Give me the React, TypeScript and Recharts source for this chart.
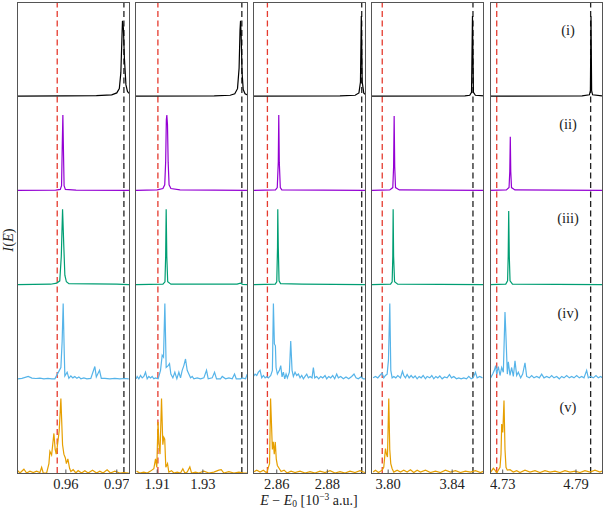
import React from 'react';
import { LineChart, Line, XAxis, YAxis, ReferenceLine } from 'recharts';

// x ranges, ticks and the two marker energies for each column
const colDomains = [
  [0.9504, 0.9724],
  [1.9007, 1.9498],
  [2.8506, 2.8949],
  [3.7899, 3.8599],
  [4.7196, 4.8113],
];
const colTicks = [
  [0.96, 0.97],
  [1.91, 1.93],
  [2.86, 2.88],
  [3.8, 3.84],
  [4.73, 4.79],
];
const redMarks = [0.9583, 1.9103, 2.8563, 3.7963, 4.7251];
const blackMarks = [0.9714, 1.9471, 2.8936, 3.853, 4.802];

const rowLabels = ['(i)', '(ii)', '(iii)', '(iv)', '(v)'];
const rowColors = ['#000000', '#9400d3', '#009e73', '#56b4e9', '#e69f00'];

// row (i)
const c1r1 = [[0.9504,0],[0.96,0.003],[0.966,0.006],[0.969,0.015],[0.97,0.035],[0.9705,0.08],[0.9708,0.25],[0.971,0.6],[0.97112,0.8],[0.9713,0.72],[0.9715,0.4],[0.9718,0.12],[0.9721,0.05],[0.9724,0.03]];
const c2r1 = [[1.9007,0],[1.935,0.003],[1.942,0.01],[1.944,0.025],[1.9452,0.08],[1.9459,0.3],[1.9463,0.7],[1.94653,0.8],[1.9468,0.65],[1.9472,0.25],[1.9477,0.07],[1.9485,0.025],[1.9498,0.01]];
const c3r1 = [[2.8506,0],[2.885,0.003],[2.891,0.01],[2.8925,0.035],[2.8931,0.15],[2.89344,0.85],[2.8938,0.15],[2.8944,0.035],[2.8949,0.02]];
const c4r1 = [[3.7899,0],[3.848,0.003],[3.851,0.01],[3.8521,0.04],[3.8527,0.85],[3.8533,0.04],[3.8545,0.01],[3.8599,0.003]];
const c5r1 = [[4.7196,0],[4.795,0.003],[4.801,0.015],[4.8018,0.06],[4.8023,0.85],[4.8028,0.06],[4.8036,0.015],[4.8113,0.004]];

// row (ii)
const c1r2 = [[0.9504,0],[0.958,0.003],[0.9589,0.01],[0.95915,0.05],[0.9593,0.5],[0.95941,0.8],[0.9595,0.5],[0.95965,0.05],[0.9599,0.01],[0.962,0.003],[0.9724,0]];
const c2r2 = [[1.9007,0],[1.91,0.005],[1.9125,0.02],[1.9133,0.06],[1.9137,0.3],[1.914,0.75],[1.91421,0.8],[1.9145,0.7],[1.9148,0.3],[1.9152,0.06],[1.916,0.02],[1.92,0.005],[1.9498,0]];
const c3r2 = [[2.8506,0],[2.8595,0.005],[2.8602,0.03],[2.8606,0.3],[2.86079,0.8],[2.861,0.3],[2.8614,0.03],[2.862,0.005],[2.8949,0]];
const c4r2 = [[3.7899,0],[3.801,0.005],[3.8029,0.03],[3.8034,0.25],[3.80375,0.79],[3.8041,0.25],[3.8046,0.03],[3.807,0.005],[3.8599,0]];
const c5r2 = [[4.7196,0],[4.733,0.005],[4.7352,0.03],[4.7358,0.2],[4.73622,0.57],[4.7366,0.2],[4.7372,0.03],[4.74,0.005],[4.8113,0]];

// row (iii)
const c1r3 = [[0.9504,0],[0.957,0.004],[0.9582,0.015],[0.9588,0.04],[0.9591,0.3],[0.95935,0.8],[0.9596,0.4],[0.9598,0.1],[0.9601,0.03],[0.9606,0.01],[0.97,0.004],[0.9724,0]];
const c2r3 = [[1.9007,0],[1.9125,0.005],[1.9134,0.03],[1.9137,0.3],[1.91393,0.8],[1.9142,0.3],[1.9146,0.03],[1.916,0.005],[1.945,0.005],[1.9465,0.015],[1.9475,0.003],[1.9498,0]];
const c3r3 = [[2.8506,0],[2.8594,0.005],[2.86,0.03],[2.8603,0.4],[2.8604,0.8],[2.8606,0.4],[2.8609,0.04],[2.8615,0.01],[2.87,0.005],[2.8949,0]];
const c4r3 = [[3.7899,0],[3.8015,0.005],[3.8025,0.03],[3.8029,0.3],[3.80312,0.8],[3.8034,0.3],[3.804,0.03],[3.806,0.005],[3.8599,0]];
const c5r3 = [[4.7196,0],[4.7325,0.005],[4.734,0.04],[4.7345,0.3],[4.73491,0.78],[4.7354,0.3],[4.736,0.04],[4.738,0.005],[4.8113,0]];

// row (iv)
const c1r4 = [[0.95053,0],[0.95137,0.005],[0.95261,0.025],[0.95333,0.008],[0.95412,0.003],[0.9549,0.008],[0.95569,0],[0.95647,0.005],[0.95725,0],[0.95784,0],[0.95843,0.06],[0.95902,0.12],[0.95927,0.4],[0.95947,0.8],[0.95967,0.3],[0.9598,0.03],[0.96025,0.07],[0.96059,0.005],[0.96098,0.03],[0.96137,0.01],[0.96176,0.025],[0.96216,0.005],[0.96255,0.02],[0.96294,0],[0.96353,0.01],[0.96412,0],[0.9649,0.005],[0.96569,0.13],[0.96598,0.02],[0.96661,0.09],[0.96696,0.005],[0.96765,0.005],[0.96863,0],[0.96961,0.005],[0.97059,0],[0.97157,0.003],[0.97235,0]];
const c2r4 = [[1.90078,0],[1.90121,0.025],[1.90194,0],[1.90268,0.035],[1.90341,0.01],[1.90414,0.025],[1.90487,0.07],[1.9056,0],[1.90633,0.025],[1.90706,0.01],[1.90779,0.025],[1.90852,0],[1.90925,0.01],[1.91042,0],[1.91145,0.09],[1.91218,0.25],[1.91276,0.23],[1.91335,0.8],[1.91393,0.12],[1.91481,0.14],[1.91539,0.16],[1.91598,0.05],[1.91686,0.01],[1.91773,0.07],[1.91861,0],[1.91949,0.07],[1.92022,0.01],[1.92095,0.09],[1.92168,0.14],[1.92241,0.21],[1.92314,0.09],[1.92387,0.05],[1.92461,0.01],[1.92534,0.025],[1.92607,0],[1.92753,0.01],[1.92899,0],[1.93045,0.01],[1.93162,0.09],[1.93236,0],[1.93411,0.01],[1.93513,0.07],[1.93601,0],[1.93776,0],[1.9385,0.025],[1.93996,0],[1.94142,0.01],[1.94288,0],[1.9439,0.05],[1.94464,0],[1.94654,0],[1.94727,0.01],[1.94873,0],[1.94946,0.05]];
const c3r4 = [[2.85076,0.025],[2.85142,0.05],[2.85208,0.035],[2.85274,0.07],[2.8534,0.09],[2.85406,0.01],[2.85472,0.035],[2.85538,0.01],[2.85604,0.025],[2.85669,0.01],[2.85762,0.035],[2.85827,0.09],[2.85867,0.8],[2.85906,0.37],[2.85946,0.35],[2.85972,0.12],[2.86025,0.05],[2.86104,0.09],[2.86157,0.14],[2.86209,0.02],[2.86262,0.07],[2.86315,0],[2.86368,0.05],[2.8642,0.01],[2.86499,0.07],[2.86552,0.4],[2.86605,0.09],[2.86657,0.025],[2.86723,0.07],[2.86789,0.035],[2.86855,0.05],[2.86921,0.01],[2.86987,0.035],[2.87053,0],[2.87119,0.025],[2.87185,0.05],[2.8725,0.01],[2.87316,0.025],[2.87395,0.01],[2.87448,0.12],[2.87501,0.01],[2.8758,0.025],[2.87659,0],[2.87738,0.025],[2.87817,0.01],[2.87909,0.035],[2.87975,0],[2.88054,0.025],[2.88133,0.01],[2.88212,0.035],[2.88291,0],[2.8837,0.05],[2.88436,0.01],[2.88528,0.025],[2.88634,0],[2.88739,0.02],[2.88845,0],[2.88963,0.025],[2.89055,0.05],[2.89134,0.01],[2.89226,0],[2.89319,0.02],[2.89424,0],[2.89503,0]];
const c4r4 = [[3.79061,0.01],[3.79206,0.025],[3.79352,0.01],[3.79477,0.035],[3.79623,0.06],[3.79727,0.01],[3.79831,0.035],[3.79936,0.05],[3.80019,0.2],[3.80102,0.8],[3.80165,0.09],[3.80248,0.01],[3.80352,0.025],[3.80477,0.01],[3.80602,0.035],[3.80769,0.01],[3.80894,0.08],[3.80977,0.035],[3.81081,0.01],[3.81186,0.045],[3.81311,0.01],[3.81436,0.035],[3.81561,0.01],[3.81686,0.03],[3.81811,0],[3.81936,0.025],[3.82061,0.01],[3.82186,0.035],[3.82331,0],[3.82436,0.025],[3.82602,0.01],[3.82727,0.035],[3.82852,0],[3.82977,0.025],[3.83102,0.01],[3.83227,0.03],[3.83373,0],[3.83519,0.02],[3.83686,0.01],[3.83831,0.045],[3.83956,0.01],[3.84102,0.025],[3.84269,0],[3.84414,0.01],[3.84561,0],[3.84727,0.01],[3.84894,0],[3.85039,0.025],[3.85186,0],[3.85311,0.01],[3.85456,0.07],[3.85561,0.01],[3.85727,0.025],[3.85894,0.01]];
const c5r4 = [[4.72015,0.01],[4.72179,0.05],[4.72315,0.09],[4.72424,0.14],[4.72506,0.05],[4.72642,0.13],[4.72779,0.035],[4.72916,0.12],[4.73052,0.07],[4.73188,0.71],[4.7327,0.44],[4.73379,0.05],[4.73461,0.18],[4.73598,0.035],[4.73734,0.12],[4.7387,0.025],[4.74007,0.19],[4.74143,0.035],[4.74279,0.07],[4.74471,0.01],[4.74635,0.05],[4.74825,0.17],[4.74962,0.025],[4.7518,0.01],[4.75371,0.035],[4.75562,0.01],[4.75781,0.025],[4.75998,0.01],[4.7619,0.05],[4.76381,0.01],[4.76599,0.025],[4.76817,0.01],[4.77008,0.035],[4.77199,0.01],[4.77418,0.025],[4.77635,0],[4.77827,0.025],[4.78018,0.01],[4.78236,0.035],[4.78454,0.01],[4.78645,0.025],[4.78836,0.01],[4.79055,0.035],[4.79272,0.01],[4.79464,0.025],[4.79655,0.01],[4.79873,0.09],[4.80009,0.01],[4.802,0.025],[4.80418,0.01],[4.80637,0.035],[4.80828,0.01],[4.81019,0.025],[4.81183,0.01]];

// row (v)
const c1r5 = [[0.95045,0.03],[0.95098,0],[0.95176,0.04],[0.95229,0],[0.95294,0.02],[0.95359,0.005],[0.95425,0.02],[0.9549,0.005],[0.95524,0.06],[0.95555,0],[0.95622,0],[0.95667,0.1],[0.95686,0.23],[0.9572,0.19],[0.95765,0.42],[0.9579,0.25],[0.9581,0.2],[0.95829,0.27],[0.95869,0.45],[0.95902,0.79],[0.95935,0.3],[0.95961,0.2],[0.9599,0.16],[0.9601,0.1],[0.96039,0.15],[0.96073,0.05],[0.96098,0.015],[0.96143,0.035],[0.96196,0],[0.96241,0.025],[0.96308,0],[0.96373,0.025],[0.96437,0],[0.96524,0.03],[0.96602,0],[0.96667,0.02],[0.96731,0],[0.9681,0.035],[0.96876,0],[0.96961,0.02],[0.97059,0],[0.97137,0.005],[0.97235,0]];
const c2r5 = [[1.90092,0.02],[1.90237,0],[1.90412,0.01],[1.90561,0],[1.90706,0.02],[1.90851,0.045],[1.90925,0.15],[1.90982,0.06],[1.91035,0.54],[1.91079,0.3],[1.91123,0.2],[1.91189,0.79],[1.91246,0.3],[1.91289,0.38],[1.91329,0.36],[1.91377,0.06],[1.91452,0.1],[1.91509,0.01],[1.91627,0.025],[1.91728,0],[1.91877,0.01],[1.92022,0],[1.92123,0.045],[1.92211,0],[1.92316,0.01],[1.9243,0.065],[1.92504,0],[1.9268,0.01],[1.92825,0],[1.93044,0.02],[1.93263,0],[1.93482,0.01],[1.93702,0.03],[1.93807,0.035],[1.93921,0],[1.9414,0.015],[1.9436,0],[1.94579,0.01],[1.94798,0],[1.94974,0]];
const c3r5 = [[2.85075,0.01],[2.85209,0.03],[2.8534,0.01],[2.8547,0.03],[2.85605,0],[2.85668,0.06],[2.85715,0.1],[2.85755,0.79],[2.85794,0.5],[2.85826,0.25],[2.85862,0.33],[2.85901,0.2],[2.85941,0.33],[2.8598,0.15],[2.86024,0.08],[2.86091,0.05],[2.8617,0.015],[2.86289,0.03],[2.86407,0],[2.86565,0.02],[2.86723,0.005],[2.86921,0.02],[2.87119,0],[2.87316,0.015],[2.87514,0],[2.87711,0.02],[2.87909,0.005],[2.88107,0.025],[2.88304,0],[2.88502,0.015],[2.887,0],[2.88897,0.02],[2.89095,0.005],[2.89292,0.025],[2.8949,0.005]];
const c4r5 = [[3.79063,0.01],[3.79206,0.03],[3.79394,0.005],[3.79625,0.03],[3.79725,0.06],[3.79831,0.26],[3.79894,0.2],[3.79956,0.17],[3.80038,0.79],[3.801,0.25],[3.80163,0.1],[3.8025,0.045],[3.8035,0.01],[3.80563,0.03],[3.80769,0.01],[3.80975,0.03],[3.81188,0.01],[3.81394,0.035],[3.816,0.005],[3.81813,0.03],[3.82019,0.01],[3.82331,0.03],[3.82644,0.005],[3.82956,0.02],[3.83269,0.005],[3.83581,0.03],[3.83894,0.01],[3.84206,0.025],[3.84519,0.005],[3.84831,0.02],[3.85144,0.01],[3.85456,0.025],[3.85769,0.005],[3.85975,0.02]];
const c5r5 = [[4.72018,0.01],[4.72231,0.05],[4.7237,0.03],[4.72509,0],[4.7264,0.03],[4.72779,0.06],[4.72861,0.2],[4.72918,0.52],[4.73008,0.43],[4.73106,0.77],[4.73188,0.25],[4.7327,0.06],[4.73377,0.03],[4.73598,0.035],[4.73868,0.01],[4.74146,0.025],[4.74416,0.005],[4.74825,0.03],[4.75235,0.01],[4.75644,0.025],[4.76053,0.005],[4.76462,0.025],[4.76872,0.01],[4.77281,0.02],[4.7769,0.005],[4.781,0.025],[4.78509,0.01],[4.78918,0.02],[4.79327,0.005],[4.79736,0.025],[4.80146,0.01],[4.80555,0.03],[4.80964,0.01],[4.81128,0.02]];

// series[col][row]
const series = [
  [c1r1, c1r2, c1r3, c1r4, c1r5],
  [c2r1, c2r2, c2r3, c2r4, c2r5],
  [c3r1, c3r2, c3r3, c3r4, c3r5],
  [c4r1, c4r2, c4r3, c4r4, c4r5],
  [c5r1, c5r2, c5r3, c5r4, c5r5],
];

const colLeft = [17, 135.5, 253, 371.5, 490];
const PLOT_W = 112;
const PLOT_TOP = 2;
const PLOT_H = 471;
const AXIS_H = 30;
const FONT = '"Liberation Serif", "Times New Roman", Times, "DejaVu Serif", "Noto Serif", Tinos, serif';
const BORDER = '#555';

// bottom tick: short inward mark plus the label below the axis
const BottomTick = (props: any) => {
  const { x, y, payload } = props;
  return (
    <g>
      <line x1={x} x2={x} y1={y} y2={y - 3.5} stroke={BORDER} strokeWidth={1} />
      <text x={x} y={y + 16} textAnchor="middle" fill="#222" fontSize={14.5} fontFamily={FONT}>
        {Number(payload.value).toFixed(2)}
      </text>
    </g>
  );
};

// top tick: short inward mark only
const TopTick = (props: any) => {
  const { x, y } = props;
  return <line x1={x} x2={x} y1={y} y2={y + 3.5} stroke={BORDER} strokeWidth={1} />;
};

const Column = ({ c }: { c: number }) => {
  const dom = colDomains[c];
  return (
    <LineChart
      width={PLOT_W}
      height={PLOT_TOP + PLOT_H + AXIS_H}
      margin={{ top: PLOT_TOP, right: 0, bottom: 0, left: 0 }}
    >
      <XAxis
        xAxisId="b"
        type="number"
        dataKey="x"
        domain={dom}
        allowDataOverflow
        ticks={colTicks[c]}
        height={AXIS_H}
        tickSize={0}
        tickMargin={0}
        tickLine={false}
        axisLine={false}
        interval={0}
        tick={<BottomTick />}
      />
      <XAxis
        xAxisId="t"
        orientation="top"
        type="number"
        dataKey="x"
        domain={dom}
        allowDataOverflow
        ticks={colTicks[c]}
        height={0}
        tickSize={0}
        tickMargin={0}
        tickLine={false}
        axisLine={false}
        interval={0}
        tick={<TopTick />}
      />
      {rowLabels.map((_, k) => (
        <YAxis key={k} yAxisId={`r${k}`} hide domain={[-(4 - k), k + 1]} allowDataOverflow />
      ))}
      <ReferenceLine xAxisId="b" yAxisId="r0" x={redMarks[c]} stroke="#e53b2f" strokeWidth={1.3} strokeDasharray="6 3.5" ifOverflow="visible" />
      <ReferenceLine xAxisId="b" yAxisId="r0" x={blackMarks[c]} stroke="#222" strokeWidth={1.3} strokeDasharray="6 3.5" ifOverflow="visible" />
      {series[c].map((pts, k) => (
        <Line
          key={k}
          xAxisId={k === 0 ? 't' : 'b'}
          yAxisId={`r${k}`}
          data={pts.map(([x, y]) => ({ x, y }))}
          dataKey="y"
          type="linear"
          dot={false}
          activeDot={false}
          stroke={rowColors[k]}
          strokeWidth={1.2}
          isAnimationActive={false}
        />
      ))}
    </LineChart>
  );
};

export default function App() {
  return (
    <div style={{ position: 'absolute', left: 0, top: 0, width: 603, height: 511, background: '#fff', fontFamily: FONT }}>
      {colLeft.map((left, c) => (
        <div key={c} style={{ position: 'absolute', left, top: 0 }}>
          <Column c={c} />
        </div>
      ))}
      {colLeft.map((left, c) => (
        <div
          key={`frame${c}`}
          style={{
            position: 'absolute',
            left: left - 0.5,
            top: PLOT_TOP - 0.5,
            width: PLOT_W + 1,
            height: PLOT_H + 1,
            boxSizing: 'border-box',
            border: `1px solid ${BORDER}`,
            pointerEvents: 'none',
          }}
        />
      ))}
      {rowLabels.map((lab, k) => (
        <div
          key={lab}
          style={{
            position: 'absolute',
            left: 548,
            width: 40,
            top: PLOT_TOP + k * (PLOT_H / 5) + 19,
            textAlign: 'center',
            fontSize: 14.5,
            color: '#222',
            lineHeight: '18px',
          }}
        >
          {lab}
        </div>
      ))}
      <div
        style={{
          position: 'absolute',
          left: -22,
          top: 230,
          width: 60,
          height: 20,
          textAlign: 'center',
          transform: 'rotate(-90deg)',
          fontSize: 14.5,
          color: '#222',
          lineHeight: '20px',
        }}
      >
        <i>I</i>(<i>E</i>)
      </div>
      <div
        style={{
          position: 'absolute',
          left: 229,
          width: 160,
          top: 493,
          textAlign: 'center',
          fontSize: 14,
          color: '#222',
          lineHeight: '16px',
          whiteSpace: 'nowrap',
        }}
      >
        <i>E</i> − <i>E</i>
        <span style={{ fontSize: 9.5, position: 'relative', top: 2 }}>0</span> [10
        <span style={{ fontSize: 9.5, position: 'relative', top: -5 }}>−3</span> a.u.]
      </div>
    </div>
  );
}
